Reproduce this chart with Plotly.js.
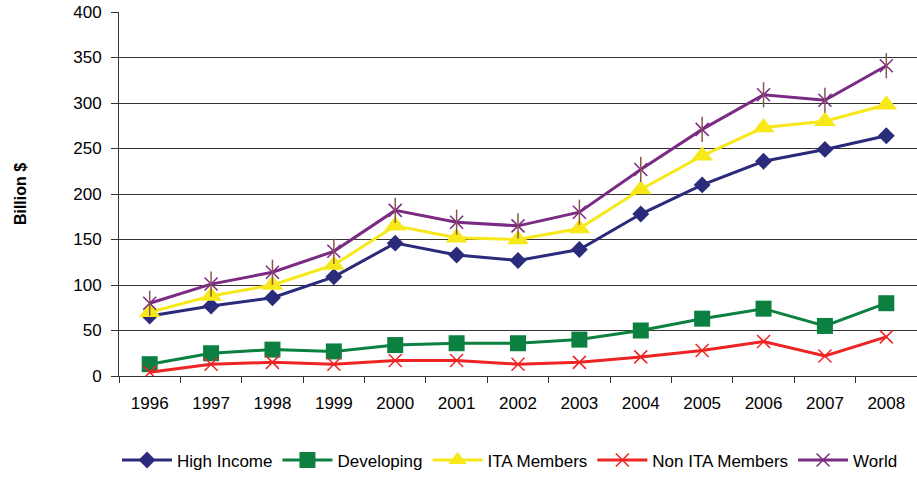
<!DOCTYPE html>
<html>
<head>
<meta charset="utf-8">
<script src="https://cdn.plot.ly/plotly-3.0.1.min.js"></script>
<style>html,body{margin:0;padding:0;background:#fff;}#chart{width:917px;height:479px;}</style>
</head>
<body>
<div id="chart"></div>
<script>
const years = ["1996","1997","1998","1999","2000","2001","2002","2003","2004","2005","2006","2007","2008"];
const highIncome = [66, 77, 86, 109, 146, 133, 127, 139, 178, 210, 236, 249, 264];
const developing = [13, 25, 29, 27, 34, 36, 36, 40, 50, 63, 74, 55, 80];
const itaMembers = [70, 88, 100, 122, 165, 152, 150, 162, 205, 242, 273, 280, 298];
const nonIta = [4, 13, 15, 13, 17, 17, 13, 15, 21, 28, 38, 22, 43];
const world = [80, 101, 114, 137, 182, 169, 165, 180, 227, 271, 309, 303, 341];
const yTicks = [0, 50, 100, 150, 200, 250, 300, 350, 400];

const font = "Liberation Sans, Arial, sans-serif";
const traces = [
  {name: "High Income", x: years, y: highIncome, type: "scatter", mode: "lines+markers",
   line: {color: "#2B2B7B", width: 3}, marker: {symbol: "diamond", size: 13, color: "#2B2B7B"}},
  {name: "Developing", x: years, y: developing, type: "scatter", mode: "lines+markers",
   line: {color: "#0B8040", width: 3}, marker: {symbol: "square", size: 16, color: "#0B8040"}},
  {name: "ITA Members", x: years, y: itaMembers, type: "scatter", mode: "lines+markers",
   line: {color: "#F7E81A", width: 3}, marker: {symbol: "triangle-up", size: 19, color: "#F7E81A"}},
  {name: "Non ITA Members", x: years, y: nonIta, type: "scatter", mode: "lines+markers",
   line: {color: "#EE2424", width: 3}, marker: {symbol: "x-thin-open", size: 13, line: {color: "#EE2424", width: 1.5}}},
  {name: "World", x: years, y: world, type: "scatter", mode: "lines+markers", legendgroup: "w",
   line: {color: "#7B2B83", width: 3}, marker: {symbol: "x-thin-open", size: 13, line: {color: "#7B2B83", width: 1.5}}},
  {name: "World", x: years, y: world, type: "scatter", mode: "markers", legendgroup: "w", showlegend: false,
   marker: {symbol: "line-ns-open", size: 18, line: {color: "#7B2B83", width: 1.5}}}
];

const layout = {
  width: 917, height: 479,
  margin: {l: 119, r: 0, t: 12, b: 100},
  paper_bgcolor: "#fff", plot_bgcolor: "#fff",
  font: {family: font, size: 17, color: "#000"},
  showlegend: true,
  legend: {orientation: "h", x: 0.49, xanchor: "center", y: -0.232, yanchor: "middle",
           font: {family: font, size: 17, color: "#000"}, traceorder: "normal", itemwidth: 50},
  xaxis: {type: "category", range: [-0.5, 12.5], tickson: "boundaries", ticks: "outside", ticklen: 6,
          tickcolor: "#333", showline: true, linecolor: "#333", linewidth: 1, showgrid: false,
          ticklabelstandoff: 12, tickfont: {family: font, size: 17}, fixedrange: true},
  yaxis: {range: [0, 400], tickvals: yTicks, ticktext: yTicks.map(String), ticks: "outside", ticklen: 7,
          tickcolor: "#333", showline: true, linecolor: "#333", linewidth: 1, showgrid: true,
          gridcolor: "#333", gridwidth: 1, zeroline: false, ticklabelstandoff: 6,
          tickfont: {family: font, size: 17},
          title: {text: "Billion $", font: {family: font, size: 16, weight: "bold"}, standoff: 42}}
};

Plotly.newPlot("chart", traces, layout, {staticPlot: true, displayModeBar: false});
</script>
</body>
</html>
